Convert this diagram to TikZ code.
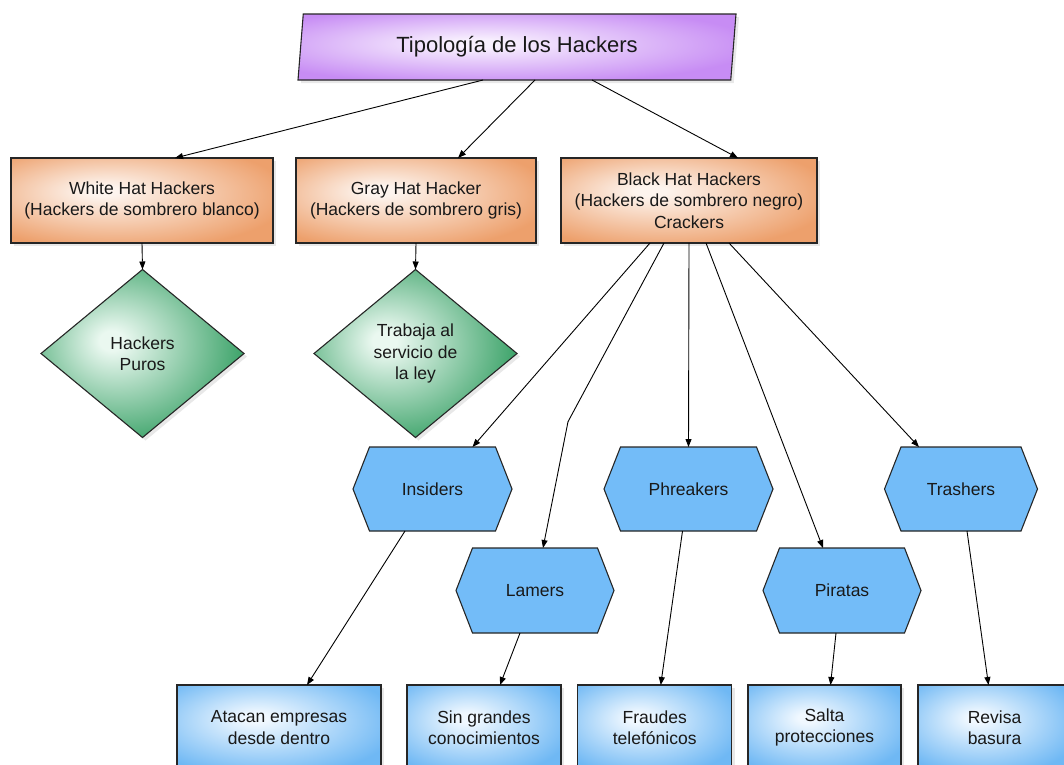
\documentclass[tikz,border=0pt]{standalone}
\usepackage{fontspec}
\setmainfont{Liberation Sans}
\usetikzlibrary{shapes.geometric,arrows.meta,shadows}
\definecolor{purin}{HTML}{F8F0FE}
\definecolor{purout}{HTML}{C78CF4}
\definecolor{orin}{HTML}{FDF4EE}
\definecolor{orout}{HTML}{EDA06C}
\definecolor{grin}{HTML}{EAF8F0}
\definecolor{grout}{HTML}{2A9A5B}
\definecolor{blin}{HTML}{F0F8FF}
\definecolor{blout}{HTML}{6FB8F4}
\definecolor{hexblue}{HTML}{73BCF8}
\pgfdeclareradialshading{purshade}{\pgfpoint{-5bp}{3bp}}{color(0bp)=(purin); color(3bp)=(purin); color(30bp)=(purout); color(60bp)=(purout)}
\pgfdeclareradialshading{orshade}{\pgfpoint{-8bp}{6bp}}{color(0bp)=(orin); color(3bp)=(orin); color(32bp)=(orout); color(60bp)=(orout)}
\pgfdeclareradialshading{grshade}{\pgfpoint{-8bp}{4bp}}{color(0bp)=(grin); color(3bp)=(grin); color(32bp)=(grout); color(60bp)=(grout)}
\pgfdeclareradialshading{blshade}{\pgfpoint{-6bp}{6bp}}{color(0bp)=(blin); color(3bp)=(blin); color(32bp)=(blout); color(60bp)=(blout)}
\newcommand{\hexnode}[6]{%
  \draw[hexshape] (#2-#4+16.5,#3-#5) -- (#2+#4-16.5,#3-#5) -- (#2+#4,#3) -- (#2+#4-16.5,#3+#5) -- (#2-#4+16.5,#3+#5) -- (#2-#4,#3) -- cycle;
  \node[hexlabel, minimum width={2*#4}, minimum height={2*#5}] (#1) at (#2,#3) {#6};}
\begin{document}
\begin{tikzpicture}[x=1pt,y=-1pt,
  base/.style={draw=black!85, line width=1.1pt, align=center, inner sep=2pt, outer sep=0pt,
    font=\fontsize{17.5}{21.5}\selectfont, text=black!90},
  shadowed/.style={drop shadow={shadow xshift=3pt,shadow yshift=-3pt,opacity=0.18}},
  titlebox/.style={base, shadowed, trapezium, trapezium left angle=78, trapezium right angle=102,
    trapezium stretches body, minimum width=438pt, minimum height=66pt, shading=purshade,
    font=\fontsize{22}{26}\selectfont},
  hatbox/.style={base, shadowed, rectangle, minimum height=85pt, shading=orshade},
  decbox/.style={base, shadowed, diamond, minimum width=203pt, minimum height=168pt, inner sep=0pt, shading=grshade},
  leafbox/.style={base, shadowed, rectangle, minimum height=85pt, shading=blshade},
  hexshape/.style={draw=black!85, line width=1.1pt, fill=hexblue, line join=miter},
  hexlabel/.style={align=center, inner sep=0pt, outer sep=0pt, font=\fontsize{17.5}{21.5}\selectfont, text=black!90},
  arr/.style={draw=black, line width=0.9pt, -{Triangle[length=8pt,width=6pt]}}
]
\useasboundingbox (0,0) rectangle (1064,764);
\clip (0,0) rectangle (1064,764);

\node[titlebox] (title) at (517,47) {Tipología de los Hackers};

\node[hatbox, minimum width=262pt] (white) at (142,200.5) {White Hat Hackers\\(Hackers de sombrero blanco)};
\node[hatbox, minimum width=240pt] (gray) at (416,200.5) {Gray Hat Hacker\\(Hackers de sombrero gris)};
\node[hatbox, minimum width=256pt] (black) at (689,200.5) {Black Hat Hackers\\(Hackers de sombrero negro)\\Crackers};

\node[decbox] (puros) at (142.5,353.5) {Hackers\\Puros};
\node[decbox] (ley) at (415.5,353.5) {Trabaja al\\servicio de\\la ley};

\hexnode{ins}{432.5}{489}{79.5}{42}{Insiders}
\hexnode{lam}{535}{590.5}{79}{42.5}{Lamers}
\hexnode{phr}{688.5}{489}{84.5}{42}{Phreakers}
\hexnode{pir}{842}{590.5}{79}{42.5}{Piratas}
\hexnode{tra}{961}{489}{76.5}{42}{Trashers}

\node[leafbox, minimum width=204pt] (atac) at (279,727.5) {Atacan empresas\\desde dentro};
\node[leafbox, minimum width=154pt] (sin) at (484,727.5) {Sin grandes\\conocimientos};
\node[leafbox, minimum width=154pt] (fra) at (654.7,727.5) {Fraudes\\telefónicos};
\node[leafbox, minimum width=153pt] (sal) at (824.5,727.5) {Salta\\protecciones};
\node[leafbox, minimum width=153pt] (rev) at (994.5,727.5) {Revisa\\basura};

\draw[arr] ([xshift=-34pt]title.south) -- ([xshift=33pt]white.north);
\draw[arr] ([xshift=18pt]title.south) -- ([xshift=42pt]gray.north);
\draw[arr] ([xshift=75pt]title.south) -- ([xshift=49pt]black.north);

\draw[arr] (white.south) -- (puros.north);
\draw[arr] (gray.south) -- (ley.north);

\coordinate (lambend) at (568,421.7);
\draw[arr] ([xshift=-39pt]black.south) -- ([xshift=40pt]ins.north);
\draw[arr] ([xshift=-25pt]black.south) -- (lambend) -- ([xshift=8pt]lam.north);
\draw[arr] (black.south) -- (phr.north);
\draw[arr] ([xshift=17pt]black.south) -- ([xshift=-19pt]pir.north);
\draw[arr] ([xshift=40pt]black.south) -- ([xshift=-42pt]tra.north);

\draw[arr] ([xshift=-27.5pt]ins.south) -- ([xshift=28pt]atac.north);
\draw[arr] ([xshift=-15pt]lam.south) -- ([xshift=16pt]sin.north);
\draw[arr] ([xshift=-6pt]phr.south) -- ([xshift=6pt]fra.north);
\draw[arr] ([xshift=-6pt]pir.south) -- ([xshift=6pt]sal.north);
\draw[arr] ([xshift=6pt]tra.south) -- ([xshift=-6pt]rev.north);
\end{tikzpicture}
\end{document}
